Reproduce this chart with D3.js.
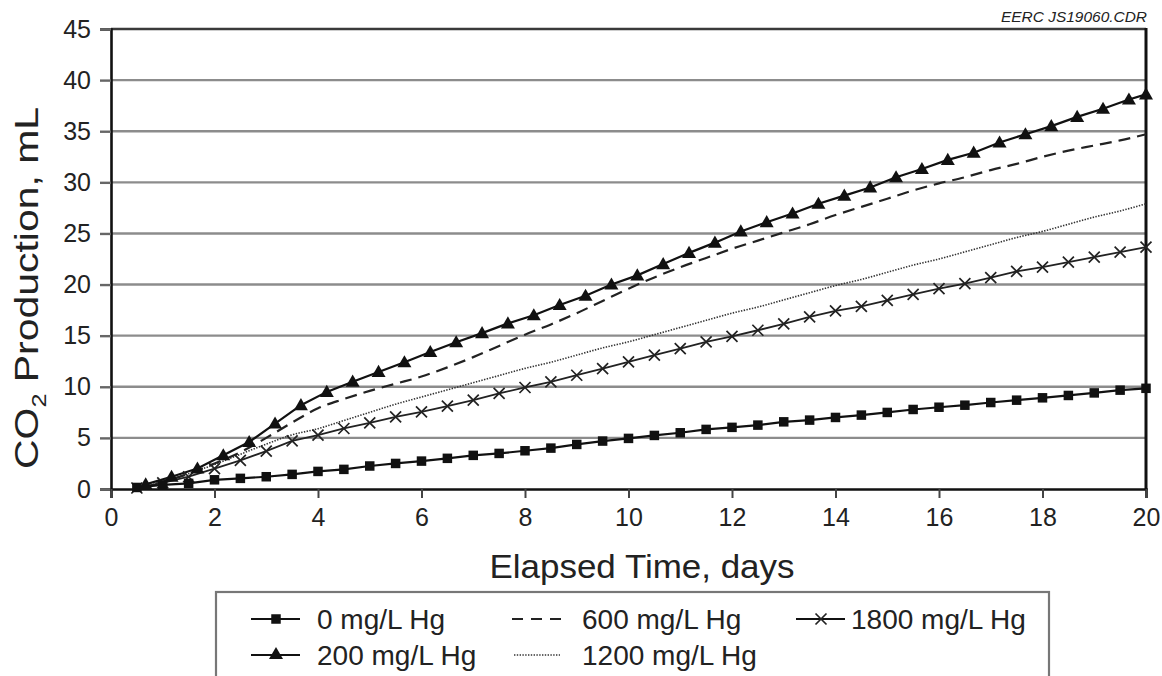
<!DOCTYPE html>
<html>
<head>
<meta charset="utf-8">
<script src="https://cdn.jsdelivr.net/npm/d3@7"></script>
<style>
  html, body { margin: 0; padding: 0; background: #fff; }
  svg { display: block; }
  text { font-family: "Liberation Sans", Arial, Helvetica, sans-serif; fill: #222; }
</style>
</head>
<body>
<svg id="chart" width="1162" height="676"></svg>
<script>
// ---------- data ----------
const xTicks = [0, 2, 4, 6, 8, 10, 12, 14, 16, 18, 20];
const yTicks = [0, 5, 10, 15, 20, 25, 30, 35, 40, 45];

const daysHalf = [0.5,1,1.5,2,2.5,3,3.5,4,4.5,5,5.5,6,6.5,7,7.5,8,8.5,9,9.5,10,
                  10.5,11,11.5,12,12.5,13,13.5,14,14.5,15,15.5,16,16.5,17,17.5,18,18.5,19,19.5,20];
const daysTri = [0.67,1.17,1.67,2.17,2.67,3.17,3.67,4.17,4.67,5.17,5.67,6.17,6.67,7.17,7.67,8.17,8.67,9.17,9.67,10.17,
                 10.67,11.17,11.67,12.17,12.67,13.17,13.67,14.17,14.67,15.17,15.67,16.17,16.67,17.17,17.67,18.17,18.67,19.17,19.67,20];

const hg0 = [0.15,0.4,0.55,0.9,1.04,1.2,1.43,1.72,1.92,2.25,2.5,2.73,3.0,3.29,3.48,3.74,4.0,4.36,4.69,4.95,
             5.24,5.5,5.83,6.03,6.25,6.57,6.74,7.0,7.23,7.49,7.78,8.0,8.2,8.46,8.69,8.92,9.15,9.4,9.67,9.85];
const hg200 = [0.45,1.2,2.0,3.3,4.6,6.4,8.2,9.5,10.5,11.45,12.4,13.4,14.35,15.25,16.2,17.0,18.0,18.9,20.0,20.9,
               22.0,23.1,24.1,25.2,26.1,26.95,27.9,28.7,29.5,30.5,31.3,32.2,32.9,33.9,34.7,35.5,36.4,37.2,38.1,38.6];
const hg600 = [0.1,0.7,1.5,2.5,3.6,5.0,6.5,7.9,8.8,9.6,10.3,11.0,11.9,12.9,14.0,15.1,16.1,17.2,18.4,19.6,
               20.7,21.7,22.6,23.5,24.3,25.1,25.9,26.8,27.6,28.4,29.2,29.9,30.5,31.2,31.8,32.5,33.1,33.6,34.1,34.7];
const hg1200 = [0.1,0.7,1.5,2.4,3.4,4.4,5.3,5.9,6.7,7.5,8.3,9.0,9.7,10.4,11.1,11.8,12.4,13.1,13.8,14.4,
                15.1,15.8,16.5,17.2,17.8,18.5,19.2,19.9,20.5,21.2,21.9,22.5,23.2,23.9,24.6,25.2,25.9,26.6,27.2,27.9];
const hg1800 = [0.1,0.6,1.2,2.0,2.8,3.7,4.7,5.27,5.92,6.47,7.06,7.55,8.1,8.7,9.35,9.93,10.48,11.13,11.78,12.43,
                13.09,13.74,14.39,14.94,15.53,16.15,16.83,17.42,17.87,18.46,19.04,19.6,20.1,20.67,21.29,21.71,22.2,22.69,23.18,23.67];

const seriesNames = ["0 mg/L Hg", "200 mg/L Hg", "600 mg/L Hg", "1200 mg/L Hg", "1800 mg/L Hg"];

// ---------- layout ----------
const svg = d3.select("#chart");
const pLeft = 111, pRight = 1146, pTop = 29, pBottom = 489;
const x = d3.scaleLinear().domain([0, 20]).range([pLeft, pRight]);
const y = d3.scaleLinear().domain([0, 45]).range([pBottom, pTop]);

// gridlines
svg.append("g").selectAll("line").data(yTicks.filter(v => v > 0 && v < 45)).join("line")
  .attr("x1", pLeft).attr("x2", pRight)
  .attr("y1", d => y(d)).attr("y2", d => y(d))
  .attr("stroke", "#8c8c8c").attr("stroke-width", 2.4);

// top frame
svg.append("line").attr("x1", pLeft).attr("x2", pRight).attr("y1", y(45)).attr("y2", y(45))
  .attr("stroke", "#3a3a3a").attr("stroke-width", 2.4);
// right frame
svg.append("line").attr("x1", pRight).attr("x2", pRight).attr("y1", y(45) - 1).attr("y2", y(0) + 1)
  .attr("stroke", "#111").attr("stroke-width", 3);

// axes
const yAxis = d3.axisLeft(y).tickValues(yTicks).tickSize(11).tickPadding(9);
const gy = svg.append("g").attr("transform", `translate(${pLeft},0)`).call(yAxis);
gy.select(".domain").attr("stroke", "#111").attr("stroke-width", 2.6);
gy.selectAll(".tick line").attr("stroke", "#666").attr("stroke-width", 2.4);
gy.selectAll(".tick text").attr("font-size", 25).attr("fill", "#222")
  .style("font-family", '"Liberation Sans", Arial, sans-serif');

const xAxis = d3.axisBottom(x).tickValues(xTicks).tickSize(9).tickPadding(10);
const gx = svg.append("g").attr("transform", `translate(0,${pBottom})`).call(xAxis);
gx.select(".domain").attr("stroke", "#111").attr("stroke-width", 2.6);
gx.selectAll(".tick line").attr("stroke", "#444").attr("stroke-width", 2);
gx.selectAll(".tick text").attr("font-size", 25).attr("fill", "#222")
  .style("font-family", '"Liberation Sans", Arial, sans-serif');

// axis titles
svg.append("text").attr("x", 642).attr("y", 578).attr("text-anchor", "middle")
  .attr("font-size", 34).attr("textLength", 305).attr("lengthAdjust", "spacingAndGlyphs")
  .text("Elapsed Time, days");

const yl = svg.append("text").attr("transform", `translate(38,288) rotate(-90)`)
  .attr("text-anchor", "middle").attr("font-size", 34)
  .attr("textLength", 362).attr("lengthAdjust", "spacingAndGlyphs");
yl.append("tspan").text("CO");
yl.append("tspan").attr("font-size", 21).attr("dy", 8).text("2");
yl.append("tspan").attr("dy", -8).text(" Production, mL");

svg.append("text").attr("x", 1147).attr("y", 22).attr("text-anchor", "end")
  .attr("font-size", 14).attr("font-style", "italic").attr("fill", "#777")
  .attr("textLength", 146).attr("lengthAdjust", "spacingAndGlyphs").text("EERC JS19060.CDR");

// ---------- series ----------
const zipS = (xs, ys) => xs.map((v, i) => [v, ys[i]]);
const lineLin = d3.line().x(d => x(d[0])).y(d => y(d[1]));
const lineSmooth = d3.line().x(d => x(d[0])).y(d => y(d[1])).curve(d3.curveMonotoneX);

const s0 = zipS(daysHalf, hg0);
const s200 = zipS(daysTri, hg200);
const s600 = zipS(daysHalf, hg600);
const s1200 = zipS(daysHalf, hg1200);
const s1800 = zipS(daysHalf, hg1800);

const plot = svg.append("g");
plot.append("path").datum(s1200).attr("d", lineSmooth).attr("fill", "none")
  .attr("stroke", "#333").attr("stroke-width", 1.6).attr("stroke-dasharray", "1.4,1.4");
plot.append("path").datum(s600).attr("d", lineSmooth).attr("fill", "none")
  .attr("stroke", "#222").attr("stroke-width", 2.2).attr("stroke-dasharray", "12,7");
plot.append("path").datum(s1800).attr("d", lineLin).attr("fill", "none")
  .attr("stroke", "#222").attr("stroke-width", 1.8);
plot.append("path").datum(s0).attr("d", lineLin).attr("fill", "none")
  .attr("stroke", "#111").attr("stroke-width", 2.2);
plot.append("path").datum(s200).attr("d", lineLin).attr("fill", "none")
  .attr("stroke", "#111").attr("stroke-width", 2.2);

// markers
function drawSquare(g, px, py, s) {
  g.append("rect").attr("x", px - s / 2).attr("y", py - s / 2).attr("width", s).attr("height", s).attr("fill", "#111");
}
function drawTri(g, px, py) {
  g.append("path").attr("transform", `translate(${px},${py + 1})`)
    .attr("d", d3.symbol().type(d3.symbolTriangle).size(85)()).attr("fill", "#111");
}
function drawCross(g, px, py, r) {
  g.append("path").attr("d", `M${px - r},${py - r}L${px + r},${py + r}M${px - r},${py + r}L${px + r},${py - r}`)
    .attr("stroke", "#222").attr("stroke-width", 1.7).attr("fill", "none");
}
const mk = svg.append("g");
s1800.forEach(d => drawCross(mk, x(d[0]), y(d[1]), 5.5));
s0.forEach(d => drawSquare(mk, x(d[0]), y(d[1]), 9.5));
s200.forEach(d => drawTri(mk, x(d[0]), y(d[1])));

// ---------- legend ----------
const lg = svg.append("g");
lg.append("rect").attr("x", 216).attr("y", 592).attr("width", 833).attr("height", 110)
  .attr("fill", "none").attr("stroke", "#777").attr("stroke-width", 2.2);

const legendItems = [
  { name: seriesNames[0], type: "square", lx: 251, tx: 317, ly: 619 },
  { name: seriesNames[1], type: "tri",    lx: 251, tx: 317, ly: 655 },
  { name: seriesNames[2], type: "dash",   lx: 512, tx: 582, ly: 619 },
  { name: seriesNames[3], type: "dot",    lx: 514, tx: 582, ly: 655 },
  { name: seriesNames[4], type: "cross",  lx: 796, tx: 851, ly: 619 }
];
legendItems.forEach(it => {
  if (it.type === "square" || it.type === "tri" || it.type === "cross") {
    lg.append("line").attr("x1", it.lx).attr("x2", it.lx + 49).attr("y1", it.ly).attr("y2", it.ly)
      .attr("stroke", "#111").attr("stroke-width", 2.2);
    if (it.type === "square") drawSquare(lg, it.lx + 25, it.ly, 9.5);
    if (it.type === "tri") drawTri(lg, it.lx + 25, it.ly - 1);
    if (it.type === "cross") drawCross(lg, it.lx + 25, it.ly, 5.5);
  } else if (it.type === "dash") {
    lg.append("line").attr("x1", it.lx).attr("x2", it.lx + 49).attr("y1", it.ly).attr("y2", it.ly)
      .attr("stroke", "#222").attr("stroke-width", 2.2).attr("stroke-dasharray", "11,8");
  } else {
    lg.append("line").attr("x1", it.lx).attr("x2", it.lx + 46).attr("y1", it.ly).attr("y2", it.ly)
      .attr("stroke", "#333").attr("stroke-width", 1.6).attr("stroke-dasharray", "1.4,1.4");
  }
  lg.append("text").attr("x", it.tx).attr("y", it.ly + 10).attr("font-size", 28).text(it.name);
});
</script>
</body>
</html>
